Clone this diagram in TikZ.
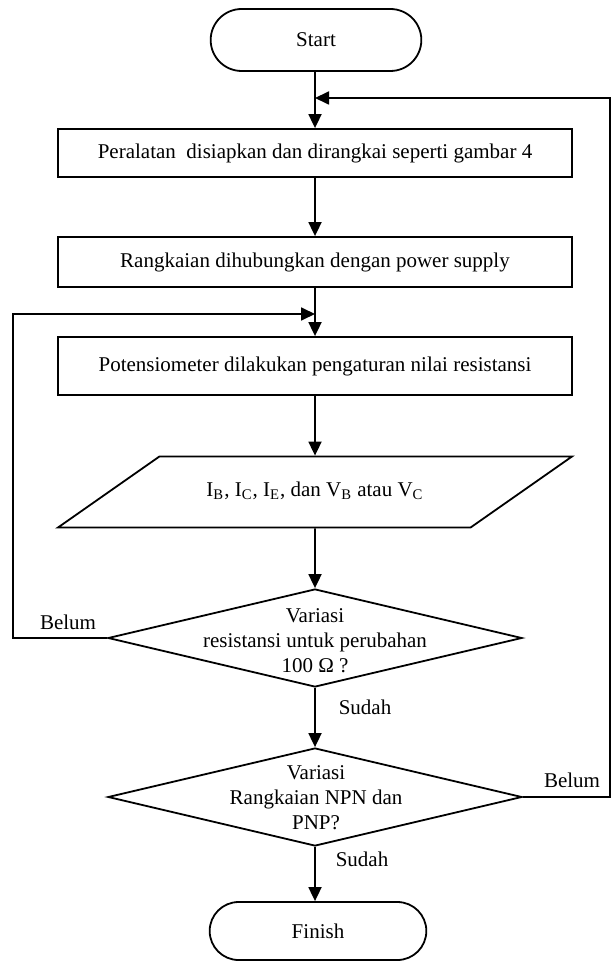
\documentclass[tikz,border=0pt]{standalone}
\usepackage{fontspec}
\setmainfont{Liberation Serif}
\usetikzlibrary{arrows.meta,shapes.geometric,shapes.misc,positioning}

\begin{document}
\begin{tikzpicture}[x=0.5pt, y=-0.5pt, line width=0.9pt,
    font=\fontsize{10.5}{12.5}\selectfont,
    terminal/.style={draw, rounded rectangle, minimum width=112pt, minimum height=31pt},
    proses/.style={draw, rectangle, minimum width=257pt},
    masukan/.style={draw, trapezium, trapezium left angle=35, trapezium right angle=145,
        trapezium stretches body, minimum width=257pt,
        text height=7pt, text depth=2.5pt, inner ysep=13pt},
    keputusan/.style={draw, diamond, minimum width=207pt, minimum height=49pt, inner sep=0pt},
    panah/.style={-{Triangle[length=7pt,width=6.5pt]}},
    ket/.style={inner sep=1pt}]
    \useasboundingbox (0,0) rectangle (612,962);

    % Start
    \node[terminal] (mulai) at (316,40) {Start};

    % process boxes
    \node[proses, minimum height=24pt] (siap) at (315,153)
        {Peralatan\ \ disiapkan dan dirangkai seperti gambar 4};
    \node[proses, minimum height=25pt] (hubung) at (315,262)
        {Rangkaian dihubungkan dengan power supply};
    \node[proses, minimum height=29pt] (atur) at (315,366)
        {Potensiometer dilakukan pengaturan nilai resistansi};

    % data
    \node[masukan] (data) at (315,492)
        {I\textsubscript{B}, I\textsubscript{C}, I\textsubscript{E}, dan V\textsubscript{B} atau V\textsubscript{C}};

    % decisions
    \node[keputusan] (cek1) at (315,638) {};
    \node[align=center] (teks1) at (315,641) {Variasi\\resistansi untuk perubahan\\100 Ω ?};
    \node[keputusan] (cek2) at (315,797) {};
    \node[align=center] (teks2) at (316,798) {Variasi\\Rangkaian NPN dan\\PNP?};

    % Finish
    \node[terminal, minimum width=115pt, minimum height=29pt] (selesai) at (318,931) {Finish};

    % helper points for the loops
    \coordinate (gabung1) at (315,98);
    \coordinate (gabung2) at (315,314);
    \coordinate (kiri) at (13,638);
    \coordinate (kanan) at (610,797);

    % main flow
    \draw[panah] (mulai.south -| siap) -- (siap);
    \draw[panah] (siap) -- (hubung);
    \draw[panah] (hubung) -- (atur);
    \draw[panah] (atur) -- (data);
    \draw[panah] (data) -- (cek1);
    \draw[panah] (cek1) -- (cek2);
    \draw[panah] (cek2) -- (cek2 |- selesai.north);

    % loops back
    \draw[panah] (cek1.west) -- (kiri) |- (gabung2);
    \draw[panah] (cek2.east) -- (kanan) |- (gabung1);

    % answers
    \node[ket] (belum1) at (68,622) {Belum};
    \node[ket] (sudah1) at (365,707) {Sudah};
    \node[ket] (belum2) at (572,780) {Belum};
    \node[ket] (sudah2) at (362,859) {Sudah};
\end{tikzpicture}
\end{document}
